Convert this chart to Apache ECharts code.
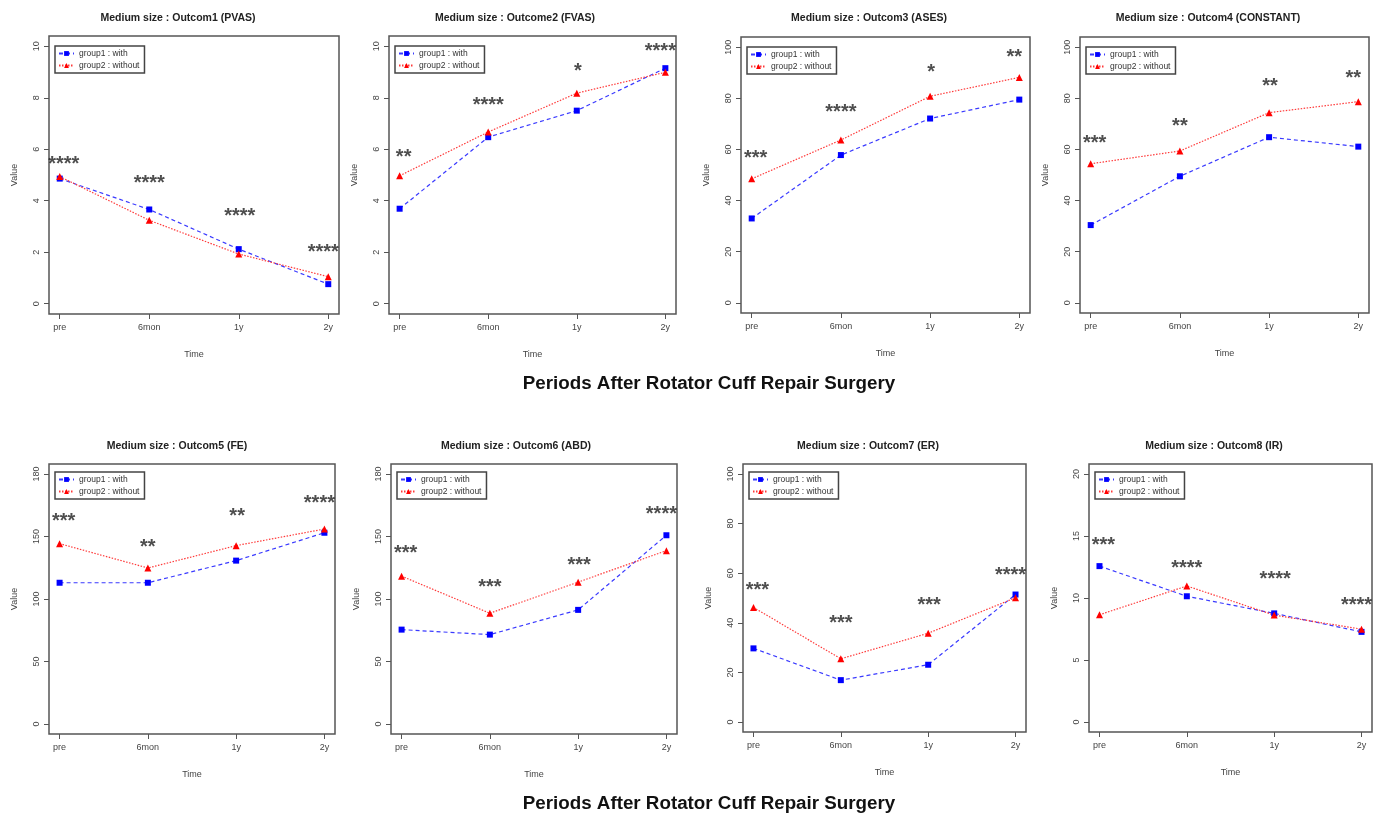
<!DOCTYPE html>
<html>
<head>
<meta charset="utf-8">
<script src="https://cdn.jsdelivr.net/npm/echarts@6/dist/echarts.min.js"></script>
<style>
html,body{margin:0;padding:0;background:#fff;}
#main{width:1382px;height:814px;}
</style>
</head>
<body>
<div id="main"></div>
<script>
// time points on x axis
var times = ['pre', '6mon', '1y', '2y'];
var groupNames = ['group1 : with', 'group2 : without'];

// outcome 1 - PVAS
var withPVAS = [4.86, 3.66, 2.12, 0.76];
var withoutPVAS = [4.94, 3.24, 1.93, 1.05];
var starsPVAS = ['****', '****', '****', '****'];
var starYPVAS = [5.62, 4.88, 3.58, 2.2];
// outcome 2 - FVAS
var withFVAS = [3.69, 6.47, 7.5, 9.15];
var withoutFVAS = [4.97, 6.67, 8.18, 8.99];
var starsFVAS = ['**', '****', '*', '****'];
var starYFVAS = [5.88, 7.88, 9.22, 10.0];
// outcome 3 - ASES
var withASES = [33.0, 57.8, 72.1, 79.5];
var withoutASES = [48.5, 63.7, 80.8, 88.2];
var starsASES = ['***', '****', '*', '**'];
var starYASES = [58.6, 76.6, 92.2, 97.9];
// outcome 4 - CONSTANT
var withCONST = [30.4, 49.5, 64.8, 61.1];
var withoutCONST = [54.4, 59.4, 74.4, 78.7];
var starsCONST = ['***', '**', '**', '**'];
var starYCONST = [64.3, 71.0, 86.7, 89.6];
// outcome 5 - FE
var withFE = [113, 113, 130.7, 153];
var withoutFE = [144.3, 124.8, 142.7, 156];
var starsFE = ['***', '**', '**', '****'];
var starYFE = [166, 145.4, 170.3, 180.7];
// outcome 6 - ABD
var withABD = [75.5, 71.5, 91.3, 151];
var withoutABD = [118.3, 88.6, 113.5, 138.7];
var starsABD = ['***', '***', '***', '****'];
var starYABD = [140.3, 113.3, 130.9, 171.9];
// outcome 7 - ER
var withER = [29.7, 16.9, 23.1, 51.4];
var withoutER = [46.2, 25.5, 35.8, 50.1];
var starsER = ['***', '***', '***', '****'];
var starYER = [55, 41.6, 48.8, 61.2];
// outcome 8 - IR
var withIR = [12.57, 10.14, 8.76, 7.27];
var withoutIR = [8.65, 10.97, 8.62, 7.49];
var starsIR = ['***', '****', '****', '****'];
var starYIR = [14.6, 12.8, 11.9, 9.8];

var panelTitles = ['Medium size : Outcom1 (PVAS)', 'Medium size : Outcome2 (FVAS)', 'Medium size : Outcom3 (ASES)', 'Medium size : Outcom4 (CONSTANT)',
    'Medium size : Outcom5 (FE)', 'Medium size : Outcom6 (ABD)', 'Medium size : Outcom7 (ER)', 'Medium size : Outcom8 (IR)'];
var yMax = [10, 10, 100, 100, 200, 200, 100, 20];
var yTicks = [[0, 2, 4, 6, 8, 10], [0, 2, 4, 6, 8, 10], [0, 20, 40, 60, 80, 100], [0, 20, 40, 60, 80, 100],
    [0, 50, 100, 150, 200], [0, 50, 100, 150, 200], [0, 20, 40, 60, 80, 100], [0, 5, 10, 15, 20]];
// the FE / ABD plots label their top tick "180"
var yTickLabelsFE = ['0', '50', '100', '150', '180'];
var withData = [withPVAS, withFVAS, withASES, withCONST, withFE, withABD, withER, withIR];
var withoutData = [withoutPVAS, withoutFVAS, withoutASES, withoutCONST, withoutFE, withoutABD, withoutER, withoutIR];
var starData = [starsPVAS, starsFVAS, starsASES, starsCONST, starsFE, starsABD, starsER, starsIR];
var starY = [starYPVAS, starYFVAS, starYASES, starYCONST, starYFE, starYABD, starYER, starYIR];
var bottomTitle = 'Periods After Rotator Cuff Repair Surgery';

// layout: [left, top, width, height] of each plot box
var boxes = [
    [49, 36, 290, 278], [389, 36, 287, 278], [741, 37, 289, 276], [1080, 37, 289, 276],
    [49, 464, 286, 270], [391, 464, 286, 270], [743, 464, 283, 268], [1089, 464, 283, 268]
];
var titleX = [173, 510, 864, 1203, 172, 511, 863, 1209];
var starShift = [4, 0, 1, -5];  // px nudge of the star labels per time point
var fontFam = '"Liberation Sans", Arial, sans-serif';

function yLabelFmt(i) {
    return function (v) {
        if (i === 4 || i === 5) {
            var idx = yTicks[i].indexOf(Math.round(v));
            if (idx >= 0) return yTickLabelsFE[idx];
        }
        return String(Math.round(v * 100) / 100);
    };
}

var grid = [], xAxis = [], yAxis = [], series = [], title = [], legend = [];
for (var i = 0; i < 8; i++) {
    var b = boxes[i];
    grid.push({left: b[0], top: b[1], width: b[2], height: b[3], show: true, borderColor: '#555', borderWidth: 1.5, backgroundColor: '#fff'});
    title.push({text: panelTitles[i], left: titleX[i], top: i < 4 ? 8 : 436, textAlign: 'center',
        textStyle: {fontSize: 10.5, fontWeight: 'bold', color: '#222', fontFamily: fontFam}});
    legend.push({left: b[0] + 6, top: b[1] + (i < 4 ? 10 : 8), orient: 'vertical', data: groupNames,
        borderColor: '#444', borderWidth: 1.5, padding: [3, 5, 3, 3], itemGap: 3, itemWidth: 15, itemHeight: 6,
        textStyle: {fontSize: 8.5, color: '#333', fontFamily: fontFam}});
    xAxis.push({gridIndex: i, type: 'value', min: 0.88, max: 4.12,
        axisLine: {show: false, onZero: false}, splitLine: {show: false},
        axisTick: {customValues: [1, 2, 3, 4], length: 5, lineStyle: {color: '#555'}},
        axisLabel: {customValues: [1, 2, 3, 4], formatter: function (v) { return times[Math.round(v) - 1]; },
            fontSize: 9, color: '#444', margin: 9, fontFamily: fontFam},
        name: 'Time', nameLocation: 'middle', nameGap: 36, nameTextStyle: {fontSize: 9, color: '#444', fontFamily: fontFam}});
    var m = yMax[i];
    yAxis.push({gridIndex: i, type: 'value', min: -0.04 * m, max: 1.04 * m,
        axisLine: {show: false, onZero: false}, splitLine: {show: false},
        axisTick: {customValues: yTicks[i], length: 5, lineStyle: {color: '#555'}},
        axisLabel: {customValues: yTicks[i], formatter: yLabelFmt(i), rotate: 90, fontSize: 9, color: '#444', margin: 8, fontFamily: fontFam},
        name: 'Value', nameLocation: 'middle', nameGap: 30, nameRotate: 90,
        nameTextStyle: {fontSize: 9, color: '#444', fontFamily: fontFam}});

    var d1 = [], d2 = [], ds = [];
    for (var k = 0; k < times.length; k++) {
        d1.push([k + 1, withData[i][k]]);
        d2.push([k + 1, withoutData[i][k]]);
        ds.push({value: [k + 1, starY[i][k], starData[i][k]], label: {offset: [starShift[k], 5]}});
    }
    series.push({name: groupNames[0], type: 'line', xAxisIndex: i, yAxisIndex: i, data: d1,
        symbol: 'rect', symbolSize: 6, color: '#0000ff',
        lineStyle: {color: '#3a3aff', width: 1.2, type: [4, 3]}, itemStyle: {color: '#0000ff'}});
    series.push({name: groupNames[1], type: 'line', xAxisIndex: i, yAxisIndex: i, data: d2,
        symbol: 'triangle', symbolSize: 7, color: '#ff0000',
        lineStyle: {color: '#ff3a3a', width: 1.2, type: [1.5, 1.5]}, itemStyle: {color: '#ff0000'}});
    series.push({type: 'scatter', xAxisIndex: i, yAxisIndex: i, data: ds, symbolSize: 1,
        itemStyle: {color: 'transparent'}, silent: true,
        label: {show: true, position: 'inside', formatter: function (p) { return p.value[2]; },
            fontSize: 20, fontWeight: 'bold', color: '#222', fontFamily: fontFam}});
}
title.push({text: bottomTitle, left: 704, top: 369, textAlign: 'center',
    textStyle: {fontSize: 18.8, fontWeight: 'bold', color: '#111', fontFamily: fontFam}});
title.push({text: bottomTitle, left: 704, top: 789, textAlign: 'center',
    textStyle: {fontSize: 18.8, fontWeight: 'bold', color: '#111', fontFamily: fontFam}});

var chart = echarts.init(document.getElementById('main'));
chart.setOption({
    animation: false,
    backgroundColor: '#fff',
    title: title,
    legend: legend,
    grid: grid,
    xAxis: xAxis,
    yAxis: yAxis,
    series: series
});
</script>
</body>
</html>
